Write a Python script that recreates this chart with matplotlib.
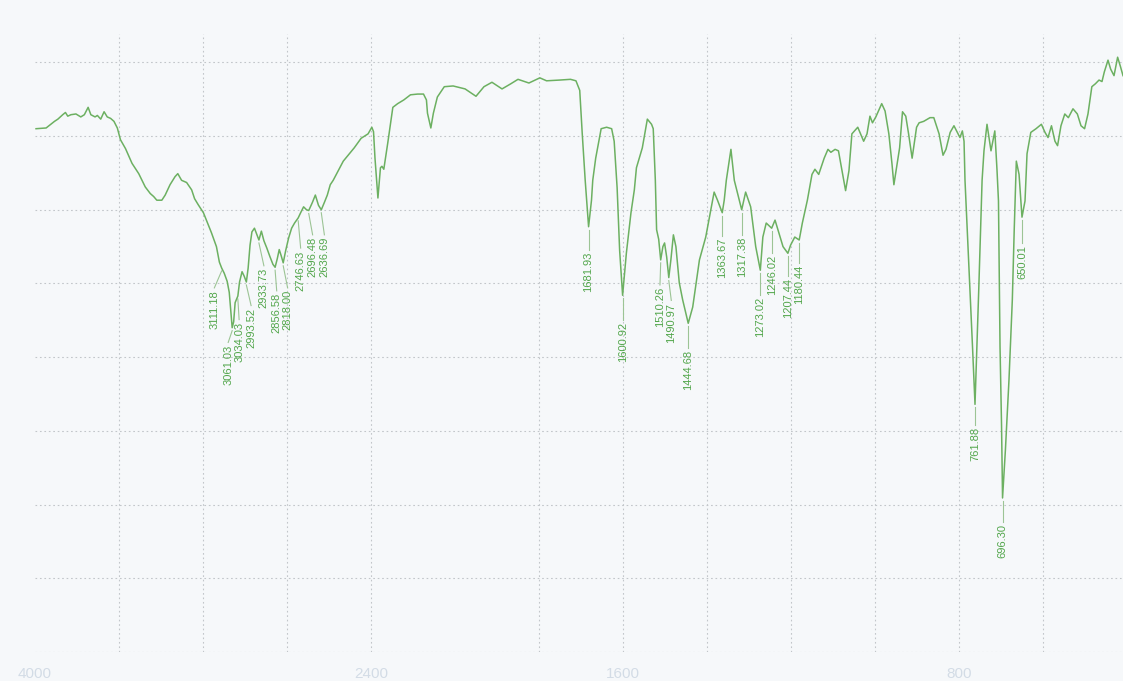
import numpy as np
import matplotlib
matplotlib.use("Agg")
from matplotlib import pyplot as plt
from matplotlib import font_manager


# IR spectrum: transmittance (%) against wavenumber (cm-1)
wavenumber = [
    3995, 3947, 3907, 3891, 3868, 3855, 3844, 3829, 3805, 3782, 3765, 3747,
    3734, 3714, 3703, 3687, 3671, 3656, 3640, 3624, 3608, 3593, 3569, 3538,
    3506, 3475, 3451, 3435, 3420, 3396, 3380, 3357, 3333, 3320, 3302, 3278,
    3254, 3240, 3223, 3198, 3160, 3136, 3122, 3111.18, 3099, 3085, 3075, 3066,
    3061.03, 3054, 3047, 3034.03, 3026, 3014, 3004, 2993.52, 2985, 2976, 2967,
    2955, 2943, 2933.73, 2922, 2910, 2896, 2882, 2867, 2856.58, 2846, 2837,
    2827, 2818.00, 2806, 2792, 2778, 2764, 2746.63, 2735, 2721, 2707, 2696.48,
    2679, 2665, 2650, 2636.69, 2622, 2608, 2594, 2580, 2532, 2480, 2447, 2414,
    2396, 2388, 2381, 2367, 2355, 2348, 2339, 2320, 2296, 2273, 2244, 2212,
    2178, 2150, 2136, 2131, 2115, 2103, 2084, 2051, 2009, 1976, 1950, 1931,
    1912, 1888, 1867, 1850, 1824, 1798, 1782, 1751, 1725, 1712, 1703, 1697,
    1690, 1681.93, 1675, 1672, 1665, 1652, 1639, 1627, 1621, 1614, 1608,
    1600.92, 1592, 1581, 1573, 1568, 1554, 1542, 1532, 1528, 1523, 1520, 1515,
    1510.26, 1505, 1501, 1496, 1490.97, 1486, 1480, 1474, 1466, 1458, 1444.68,
    1434, 1418, 1403, 1391, 1383, 1375, 1363.67, 1359, 1354, 1343, 1335,
    1317.38, 1308, 1296, 1284, 1273.02, 1267, 1259, 1246.02, 1238, 1229, 1219,
    1207.44, 1201, 1191, 1180.44, 1173, 1161, 1150, 1143, 1134, 1121, 1112,
    1105, 1095, 1087, 1078.6, 1070, 1062, 1055, 1041, 1027, 1019, 1012, 1006,
    998, 984, 976, 967, 959.5, 955, 941.4, 934.5, 926.7, 920, 911.6, 901, 895,
    884, 869, 860, 847.4, 838, 831, 821, 812, 804, 797.7, 792, 788, 785.7,
    773.8, 767.8, 761.88, 753, 745, 740.5, 733.3, 723.8, 714.7, 709.5, 706,
    702.3, 698.7, 696.30, 689.5, 681, 673, 668.5, 663.5, 657, 650.01, 642.8,
    638, 629, 616.6, 603.8, 595.2, 588, 579.8, 571.5, 565.3, 557.2, 548.1,
    539.6, 528.6, 518.2, 509.5, 501, 492.9, 483.7, 475.2, 466.6, 459.5, 454,
    445.2, 439, 430.9, 422.3, 415.4, 409.5,
]
transmittance = [
    71.0, 71.1, 72.0, 72.3, 72.9, 73.2, 72.7, 72.9, 73.0, 72.6, 72.9, 73.9,
    72.9, 72.6, 72.8, 72.3, 73.3, 72.6, 72.4, 72.0, 71.1, 69.5, 68.3, 66.3,
    64.9, 63.1, 62.2, 61.8, 61.3, 61.3, 62.0, 63.4, 64.5, 64.9, 64.0, 63.7,
    62.7, 61.5, 60.7, 59.6, 56.9, 55.0, 52.9, 52.1, 51.4, 50.3, 48.8, 45.7,
    44.0, 44.8, 47.4, 48.3, 50.2, 51.6, 51.0, 50.2, 52.1, 55.2, 57.0,
    57.5, 56.6, 55.9, 57.1, 55.8, 54.8, 53.7, 52.6, 52.2, 53.4, 54.6,
    53.7, 52.8, 54.5, 56.2, 57.5, 58.2, 58.9, 59.6, 60.4, 60.0, 59.9,
    61.0, 62.0, 60.6, 60.0, 61.0, 62.0, 63.4, 64.0, 66.6, 68.4, 69.7, 70.3,
    71.2, 70.6, 67.0, 61.6, 65.7, 65.9, 65.5, 69.1, 73.9, 74.4, 74.9, 75.6,
    75.7, 75.7, 74.9, 73.1, 71.1, 73.1, 75.3, 76.7, 76.8, 76.4, 75.4, 76.7,
    77.3, 76.4, 77.1, 77.7, 77.2, 77.9, 77.5, 77.6, 77.7, 77.5, 76.2, 70.3,
    64.0, 57.7, 61.3, 64.0, 67.0, 71.0, 71.2, 71.0, 69.3, 63.0, 54.5,
    48.4, 54.1, 59.6, 62.7, 65.7, 68.4, 72.3, 71.6, 71.0, 64.0, 57.3, 56.0,
    53.2, 55.0, 55.5, 53.6, 50.8, 53.2, 56.6, 55.0, 50.1, 47.8, 44.6,
    46.8, 53.2, 56.3, 60.0, 62.4, 61.3, 59.6, 61.3, 64.0, 68.2, 64.0,
    60.0, 62.4, 60.4, 55.0, 51.8, 56.3, 58.2, 57.5, 58.6, 56.9, 55.0,
    54.1, 55.2, 56.3, 55.9, 58.2, 61.3, 64.8, 65.5, 64.8, 67.0, 68.2,
    67.8, 68.2, 68.0, 65.3, 62.6, 65.3, 70.3, 71.2, 69.3, 70.3, 72.7, 71.8,
    72.6, 74.4, 73.4, 70.3, 66.2, 63.4, 68.4, 73.3, 72.7, 70.3, 67.0, 71.2, 71.8,
    72.0, 72.5, 72.5, 70.3, 67.4, 68.2, 70.5, 71.4, 70.5, 69.8, 70.7, 69.3, 64.0,
    49.1, 41.4, 33.6, 49.1, 64.0, 68.0, 71.6, 68.0, 70.7, 65.4, 61.2,
    41.4, 30.8, 20.9, 27.4, 36.9, 47.8, 57.3, 66.6, 64.8, 59.0, 61.2,
    67.6, 70.5, 71.0, 71.6, 70.5, 69.8, 71.4, 69.3, 68.7, 71.4, 73.0,
    72.5, 73.7, 73.0, 71.4, 71.0, 73.0, 76.7, 77.1, 77.6, 77.4, 78.7,
    80.3, 79.1, 78.2, 80.7, 79.4, 78.2,
]

# picked peaks, with where each rotated label sits
peak_wn = [3111.18, 3061.03, 3034.03, 2993.52, 2933.73, 2856.58, 2818.00,
           2746.63, 2696.48, 2636.69, 1681.93, 1600.92, 1510.26, 1490.97,
           1444.68, 1363.67, 1317.38, 1273.02, 1246.02, 1207.44, 1180.44,
           761.88, 696.30, 650.01]
label_wn = [3146, 3080, 3028, 2971, 2910, 2849, 2797, 2735, 2678, 2622,
            1681.93, 1600.92, 1512, 1485, 1444.68, 1363.67, 1317.38, 1273.02,
            1246.02, 1207.44, 1180.44, 761.88, 696.30, 650.01]
label_top = [49.1, 41.7, 44.8, 46.7, 52.1, 48.7, 49.1, 54.5, 56.3, 56.3,
             54.3, 44.8, 49.5, 47.4, 41.0, 56.2, 56.3, 48.2, 53.9, 50.7, 52.5,
             30.5, 17.4, 55.2]

grid_wn = [3600, 3200, 2800, 2400, 1800, 1600, 1400, 1200, 1000, 800, 600]
grid_t = [0, 10, 20, 30, 40, 50, 60, 70, 80]
tick_wn = [4000, 2400, 1600, 800]


# wavenumber axis is compressed by half above 2000 cm-1
def fwd(w):
    w = np.asarray(w, dtype=float)
    return np.where(w <= 2000, w, 2000 + (w - 2000) / 2)


def inv(u):
    u = np.asarray(u, dtype=float)
    return np.where(u <= 2000, u, 2000 + (u - 2000) * 2)


names = {f.name for f in font_manager.fontManager.ttflist}
if "Liberation Sans Narrow" in names:
    label_family, label_size = "Liberation Sans Narrow", 9.7
else:
    label_family, label_size = "Liberation Sans", 8

paper = "#f6f8fa"
line_green = "#6cb061"
text_green = "#52a64b"
leader = "#9cc495"
grid_col = "#c2c6ca"

fig = plt.figure(figsize=(11.23, 6.81), dpi=100, facecolor=paper)
ax = fig.add_axes([35 / 1123, 29 / 681, 1088 / 1123, 618 / 681])
ax.set_facecolor(paper)
ax.set_xscale("function", functions=(fwd, inv))
ax.set_xlim(4000, 409.5)
ax.set_ylim(0, 83.85)

for g in grid_wn:
    ax.axvline(g, color=grid_col, lw=0.8, ls=(0, (1.5, 2.5)), zorder=1)
for g in grid_t:
    ax.axhline(g, color=grid_col, lw=0.8, ls=(0, (1.5, 2.5)), zorder=1)

ax.plot(wavenumber, transmittance, color=line_green, lw=1.1, zorder=3)

# peak labels hang below each minimum on a short leader
wn_up = np.asarray(wavenumber)[::-1]
t_up = np.asarray(transmittance)[::-1]
for p, lx, top in zip(peak_wn, label_wn, label_top):
    valley = np.interp(p, wn_up, t_up)
    ax.plot([p, lx], [valley - 0.4, top + 0.3], color=leader, lw=0.8, zorder=2)
    ax.text(lx, top, f"{p:.2f}", rotation=90, ha="center", va="top",
            fontsize=label_size, family=label_family, color=text_green, zorder=4)

ax.set_xticks(tick_wn)
ax.set_xticklabels([str(t) for t in tick_wn], family="Liberation Sans")
ax.tick_params(axis="x", length=0, pad=11, labelsize=11, labelcolor="#d3dce6")
ax.set_yticks([])
for s in ax.spines.values():
    s.set_visible(False)

fig.savefig("out.png", dpi=100, facecolor=fig.get_facecolor())
